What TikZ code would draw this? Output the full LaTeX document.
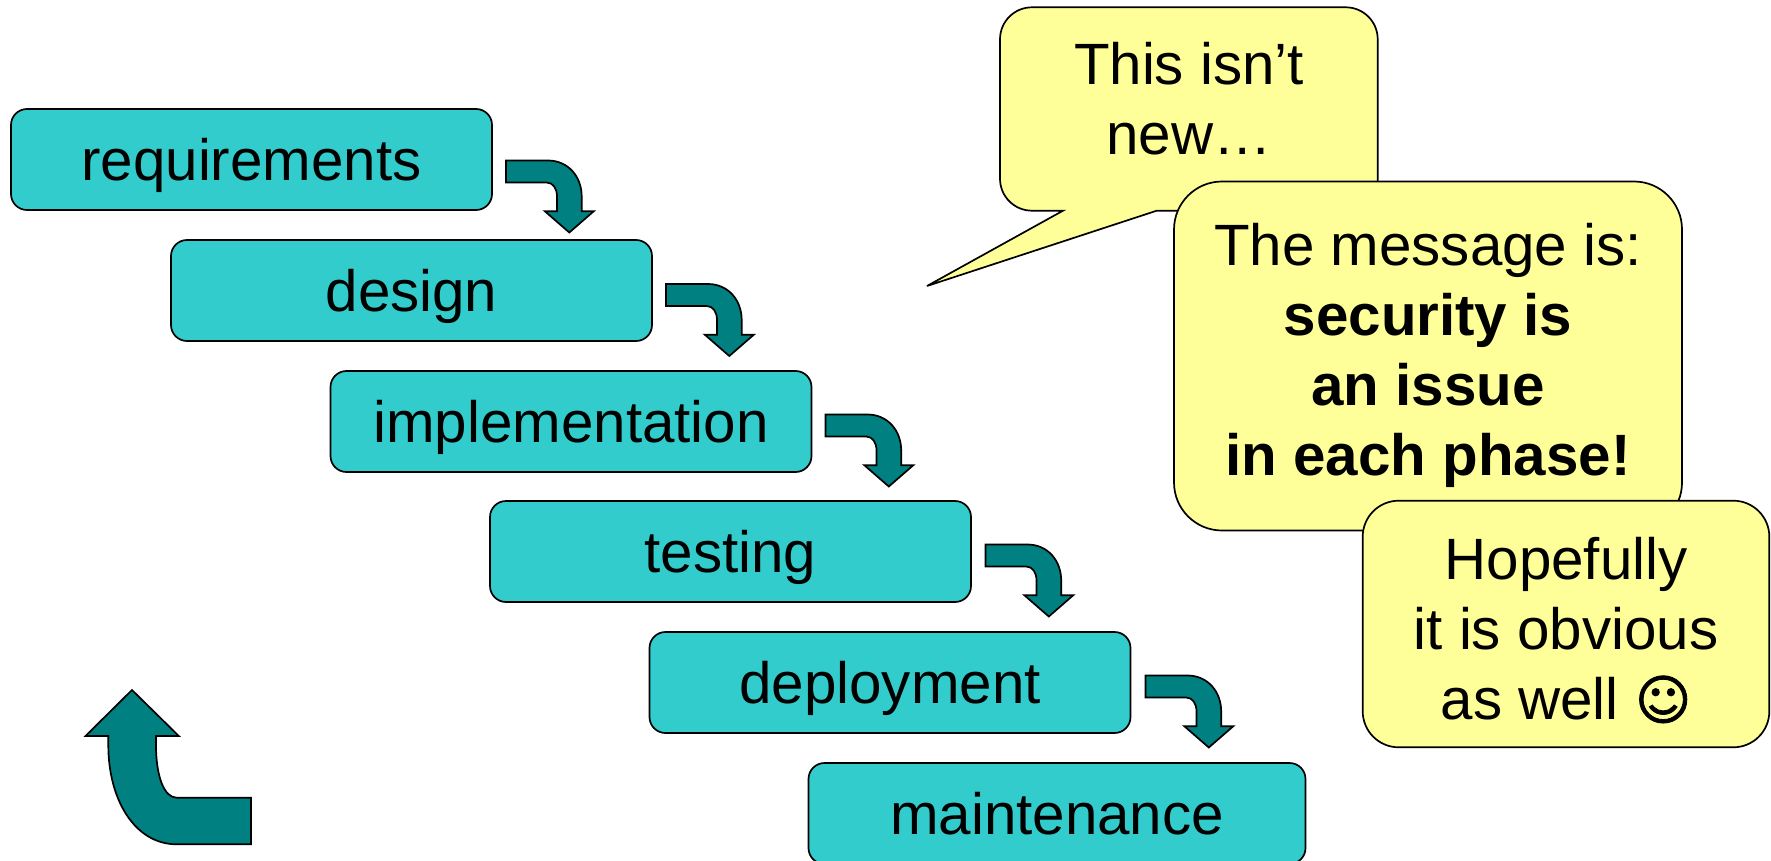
\documentclass[tikz,border=0pt]{standalone}
\usepackage{fontspec}
\setmainfont{Liberation Sans}
\newfontfamily\symfont[FakeBold=1.5]{DejaVu Sans}
\definecolor{boxteal}{HTML}{33CCCC}
\definecolor{arrowteal}{HTML}{008080}
\definecolor{noteyellow}{HTML}{FFFF99}
\newcommand{\stepArrow}[2]{%
  \begin{scope}[shift={(#1,#2)}]
    \draw[blockarrow] (0,0) -- (42,0) .. controls (62,0) and (75.7,16) .. (75.7,36)
      -- (75.7,50.7) -- (87.8,50.7) -- (63.3,72) -- (38.8,50.7) -- (51,50.7) -- (51,36)
      .. controls (51,28) and (47,22) .. (40.7,22) -- (0,22) -- cycle;
  \end{scope}}
\tikzset{
  x=1pt,y=-1pt,
  phase/.style={draw=black,line width=1.7pt,fill=boxteal,rounded corners=16pt,
    minimum width=481pt,minimum height=101pt,inner sep=0pt,
    font=\fontsize{58.3}{70}\selectfont,text height=47pt,text depth=5pt},
  blockarrow/.style={draw=black,line width=1.7pt,fill=arrowteal,line join=miter},
  bubble/.style={draw=black,line width=1.7pt,fill=noteyellow},
  bubbletext/.style={inner sep=0pt,align=center,font=\fontsize{58.3}{70}\selectfont}
}
\begin{document}
\begin{tikzpicture}
\useasboundingbox[fill=white] (0,0) rectangle (1771,861);
% phases
\node[phase] (req)  at (251.5,159.5)   {requirements};
\node[phase] (des)  at (411.5,290.5)   {design};
\node[phase] (imp)  at (571,421.5)   {implementation};
\node[phase] (tst)  at (730.5,551.5)   {testing};
\node[phase] (dep)  at (890,682.5)   {deployment};
\node[phase,minimum width=497pt] (mnt) at (1057,813.5) {maintenance};
% step arrows
\stepArrow{506}{160.5}
\stepArrow{666}{284}
\stepArrow{825.5}{414.5}
\stepArrow{985.5}{544.5}
\stepArrow{1145.5}{675.5}
% return arrow
\draw[blockarrow] (251,797.7) -- (176.7,797.7) .. controls (164,797.7) and (156,776) .. (156,745)
  -- (156,736) -- (178.8,736) -- (132,690) -- (85.5,736) -- (108.3,736) -- (108.3,745)
  .. controls (108.3,800) and (135,844.3) .. (176.7,844.3) -- (251,844.3) -- cycle;
% callouts
\draw[bubble] (1063,210.7) -- (927,286) -- (1156.7,210.7) -- (1345.7,210.7)
  .. controls (1363.4,210.7) and (1377.7,196.4) .. (1377.7,178.7)
  -- (1377.7,39.3) .. controls (1377.7,21.6) and (1363.4,7.3) .. (1345.7,7.3)
  -- (1032,7.3) .. controls (1014.3,7.3) and (1000,21.6) .. (1000,39.3)
  -- (1000,178.7) .. controls (1000,196.4) and (1014.3,210.7) .. (1032,210.7) -- cycle;
\node[bubbletext] (c1) at (1189,99) {This isn’t\\new…};
\node[bubble,rounded corners=48pt,minimum width=508pt,minimum height=349pt,inner sep=0pt] (c2b) at (1428,356) {};
\node[bubbletext] (c2) at (1428,355) {The message is:\\\textbf{security is}\\\textbf{an issue}\\\textbf{in each phase!}};
\node[bubble,rounded corners=36pt,minimum width=406.6pt,minimum height=246.6pt,inner sep=0pt] (c3b) at (1566,624) {};
\node[bubbletext] (c3) at (1566,630) {Hopefully\\it is obvious\\as well {\symfont\fontsize{54}{70}\selectfont ☺}};
\end{tikzpicture}
\end{document}
